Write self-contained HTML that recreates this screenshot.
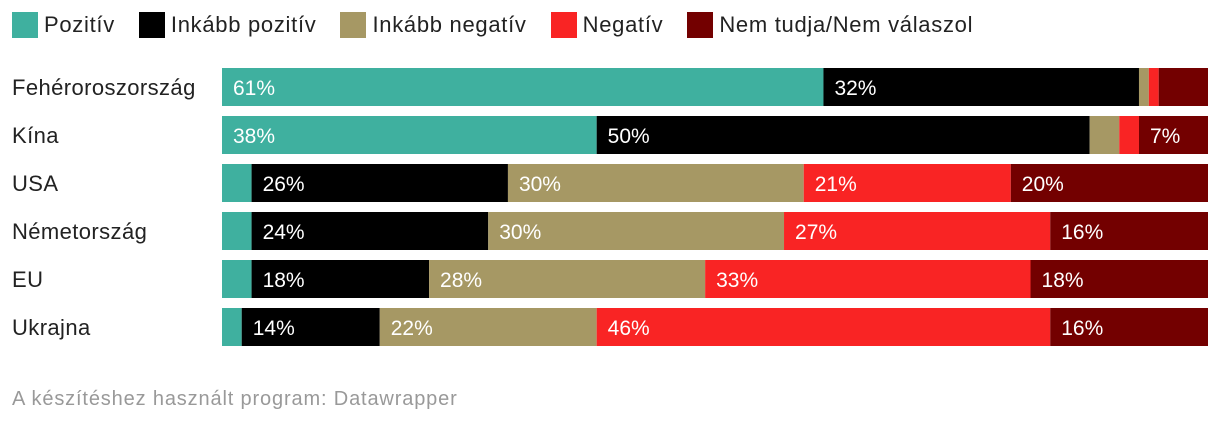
<!DOCTYPE html>
<html><head><meta charset="utf-8">
<style>
body{margin:0;width:1220px;height:426px;background:#fff;font-family:"Liberation Sans",sans-serif;overflow:hidden;position:relative}
.leg{position:absolute;top:12px;left:12px;display:flex;font-size:22px;color:#222;letter-spacing:0.7px}
.li{display:flex;align-items:center;margin-right:24px}
.sw{width:26px;height:26px;margin-right:6px}
.foot{position:absolute;left:12px;top:388px;font-size:20px;color:#999;letter-spacing:0.85px}
</style></head><body>
<div class="leg">
<div class="li"><div class="sw" style="background:#3fb09f"></div>Pozitív</div>
<div class="li"><div class="sw" style="background:#000"></div>Inkább pozitív</div>
<div class="li"><div class="sw" style="background:#a69864"></div>Inkább negatív</div>
<div class="li"><div class="sw" style="background:#f92424"></div>Negatív</div>
<div class="li"><div class="sw" style="background:#730000"></div>Nem tudja/Nem válaszol</div>
</div>
<svg id="chart" width="1220" height="380" style="position:absolute;left:0;top:0"></svg>
<div class="foot">A készítéshez használt program: Datawrapper</div>
<script>
const categories=["Fehéroroszország","Kína","USA","Németország","EU","Ukrajna"];
const pozitiv=[61,38,3,3,3,2];
const inkabbPozitiv=[32,50,26,24,18,14];
const inkabbNegativ=[1,3,30,30,28,22];
const negativ=[1,2,21,27,33,46];
const nemTudja=[5,7,20,16,18,16];
const series=[pozitiv,inkabbPozitiv,inkabbNegativ,negativ,nemTudja];
const colors=["#3fb09f","#000","#a69864","#f92424","#730000"];
const svg=document.getElementById('chart');
const NS="http://www.w3.org/2000/svg";
const x0=222,W=986,y0=68,H=38,P=48;
function xs(v,t){return v/t*W;}
categories.forEach((c,i)=>{
  const lab=document.createElementNS(NS,'text');
  lab.setAttribute('x',12);lab.setAttribute('y',y0+i*P+H/2+8);
  lab.setAttribute('font-size',22);lab.setAttribute('fill','#222');
  lab.setAttribute('letter-spacing','0.4');
  lab.textContent=c;
  
  
  svg.appendChild(lab);
  const tot=series.reduce((s,a)=>s+a[i],0);
  let acc=0;
  series.forEach((s,j)=>{
    const v=s[i];
    const r=document.createElementNS(NS,'rect');
    r.setAttribute('x',x0+xs(acc,tot));r.setAttribute('y',y0+i*P);
    r.setAttribute('width',xs(v,tot));r.setAttribute('height',H);
    r.setAttribute('fill',colors[j]);
    
    
    svg.appendChild(r);
    if(v>=7){
      const t=document.createElementNS(NS,'text');
      t.setAttribute('x',x0+xs(acc,tot)+11);t.setAttribute('y',y0+i*P+H/2+8);
      t.setAttribute('font-size',21);t.setAttribute('fill','#fff');
      t.textContent=v+'%';
      
      
      svg.appendChild(t);
    }
    acc+=v;
  });
});
</script>
</body></html>
